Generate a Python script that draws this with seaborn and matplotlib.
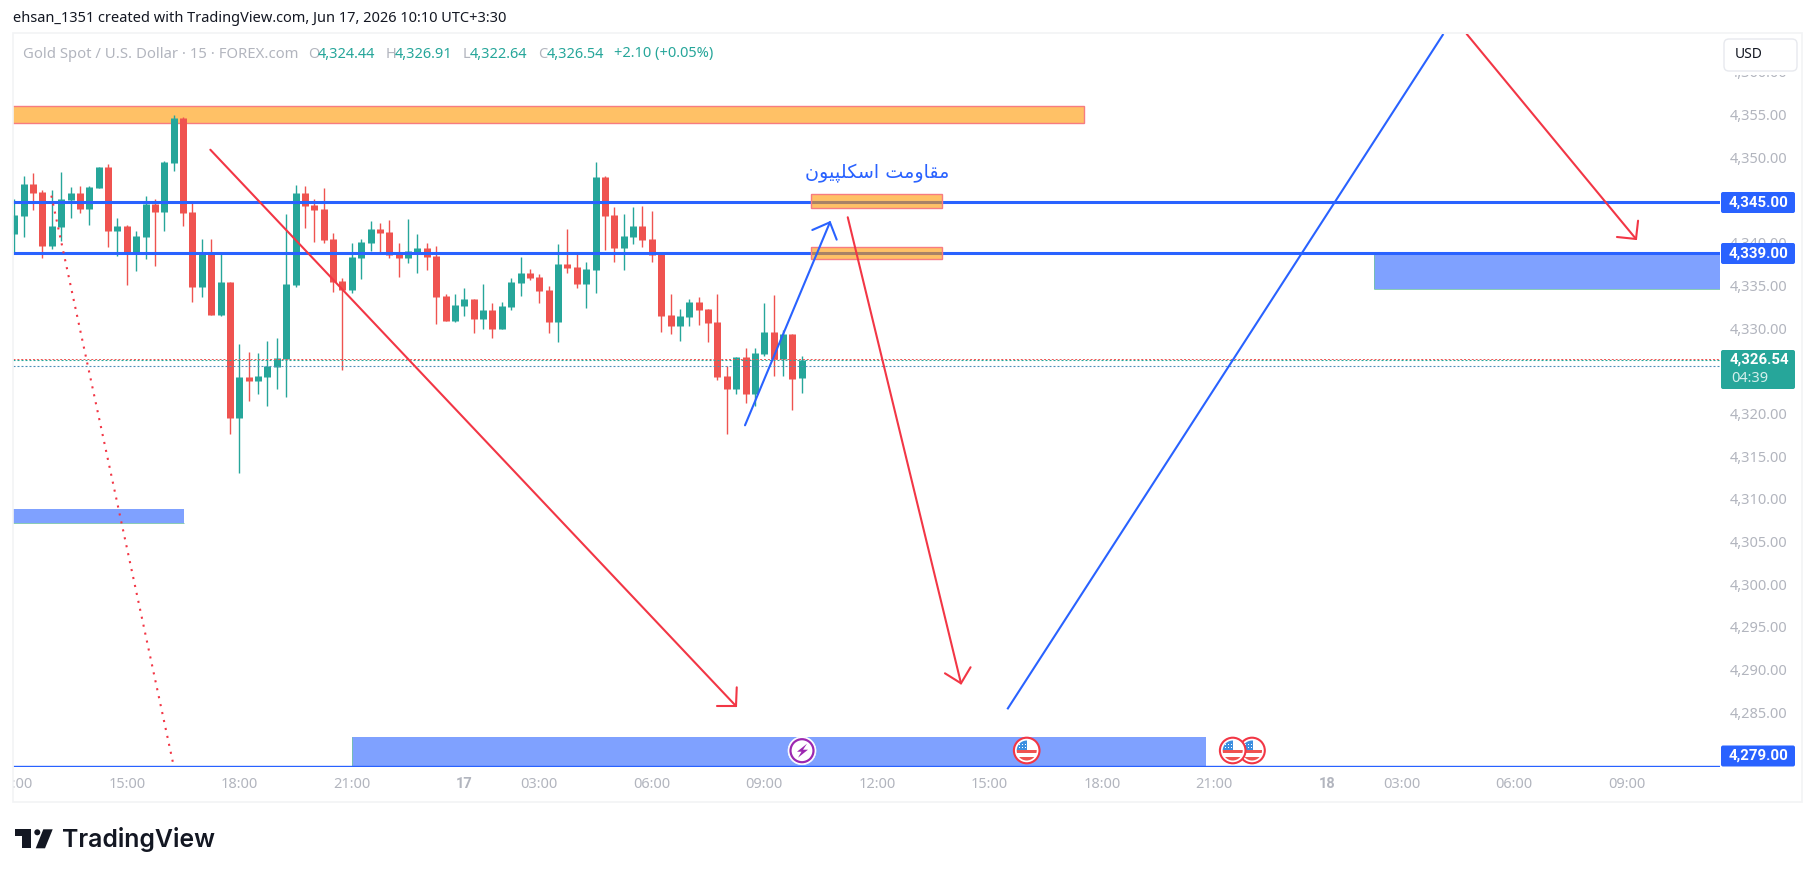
import matplotlib
matplotlib.use('Agg')
import matplotlib.pyplot as plt
import seaborn as sns
import pandas as pd
from matplotlib.patches import Rectangle, Circle, Polygon, FancyBboxPatch
from matplotlib.transforms import Affine2D, Bbox

# 15 min candles
opens = [4341.25, 4343.36, 4347.10, 4346.17, 4339.84, 4342.07, 4345.23, 4346.05, 4344.18, 4346.64,
         4349.09, 4341.60, 4342.19, 4338.91, 4340.90, 4344.76, 4343.83, 4349.56, 4354.83, 4343.83,
         4335.04, 4339.02, 4331.76, 4335.63, 4319.70, 4324.50, 4324.04, 4324.50, 4325.68, 4326.57,
         4335.28, 4346.05, 4344.65, 4344.18, 4340.67, 4335.75, 4334.70, 4338.44, 4340.20, 4341.84,
         4341.49, 4338.91, 4338.44, 4339.15, 4339.61, 4338.68, 4333.99, 4331.07, 4332.82, 4333.64,
         4331.30, 4332.35, 4330.13, 4332.71, 4335.52, 4336.69, 4336.22, 4334.70, 4330.95, 4337.74,
         4337.39, 4335.40, 4337.04, 4347.93, 4343.48, 4339.61, 4340.90, 4342.19, 4340.67, 4338.91,
         4331.77, 4330.48, 4331.53, 4333.29, 4332.47, 4330.95, 4324.63, 4323.10, 4326.85, 4322.52,
         4327.20, 4329.78, 4326.62, 4329.54, 4324.44]
highs = [4345.35, 4348.04, 4348.39, 4346.40, 4346.40, 4348.51, 4346.75, 4346.87, 4346.87, 4349.09,
         4349.45, 4343.12, 4342.30, 4341.60, 4345.70, 4345.35, 4349.80, 4355.18, 4354.95, 4345.11,
         4340.66, 4340.66, 4338.91, 4335.63, 4328.37, 4327.43, 4327.31, 4328.72, 4329.07, 4343.59,
         4346.99, 4346.87, 4345.35, 4346.64, 4341.37, 4336.10, 4340.20, 4340.67, 4342.78, 4342.54,
         4342.89, 4340.20, 4343.01, 4341.25, 4340.20, 4339.85, 4334.23, 4334.23, 4334.93, 4333.64,
         4335.40, 4333.17, 4333.29, 4336.10, 4338.56, 4337.15, 4336.57, 4335.16, 4340.08, 4341.84,
         4339.03, 4337.97, 4349.68, 4348.04, 4344.41, 4343.59, 4344.41, 4344.53, 4343.95, 4339.03,
         4334.23, 4332.47, 4333.64, 4333.88, 4332.47, 4334.23, 4325.80, 4326.85, 4327.90, 4327.90,
         4333.17, 4334.11, 4330.01, 4329.54, 4326.91]
lows = [4338.99, 4340.90, 4344.06, 4338.44, 4339.49, 4340.39, 4343.12, 4343.71, 4342.30, 4346.64,
        4339.73, 4338.67, 4335.28, 4336.92, 4338.32, 4337.50, 4341.60, 4348.63, 4342.19, 4333.29,
        4333.87, 4331.76, 4331.65, 4317.83, 4313.26, 4321.69, 4322.51, 4321.11, 4323.10, 4322.16,
        4335.04, 4341.96, 4340.32, 4340.20, 4334.46, 4325.33, 4334.34, 4335.98, 4339.26, 4339.15,
        4338.44, 4336.22, 4337.86, 4336.69, 4337.04, 4330.71, 4331.07, 4330.95, 4331.65, 4329.66,
        4330.13, 4329.07, 4330.13, 4332.35, 4333.99, 4335.87, 4333.17, 4329.66, 4328.61, 4336.69,
        4334.93, 4332.59, 4334.34, 4339.38, 4337.97, 4337.04, 4340.08, 4339.73, 4337.97, 4329.78,
        4329.54, 4328.72, 4330.48, 4330.60, 4328.61, 4324.16, 4317.83, 4322.52, 4321.46, 4321.11,
        4326.97, 4324.63, 4324.63, 4320.64, 4322.64]
closes = [4343.47, 4347.10, 4346.05, 4339.84, 4342.19, 4345.35, 4346.05, 4344.18, 4346.75, 4349.09,
          4341.60, 4342.19, 4338.91, 4341.01, 4344.76, 4343.83, 4349.68, 4354.83, 4343.71, 4335.04,
          4339.02, 4331.76, 4335.63, 4319.70, 4324.50, 4324.04, 4324.62, 4325.79, 4326.73, 4335.39,
          4346.05, 4344.53, 4344.06, 4340.55, 4335.63, 4334.70, 4338.56, 4340.32, 4341.84, 4341.37,
          4338.79, 4338.44, 4339.26, 4339.61, 4338.56, 4333.88, 4331.07, 4332.94, 4333.64, 4331.30,
          4332.35, 4330.13, 4332.82, 4335.63, 4336.69, 4336.10, 4334.58, 4330.95, 4337.74, 4337.27,
          4335.40, 4337.15, 4347.93, 4343.36, 4339.61, 4341.02, 4342.19, 4340.55, 4338.79, 4331.65,
          4330.48, 4331.65, 4333.29, 4332.35, 4330.83, 4324.51, 4323.10, 4326.85, 4322.52, 4327.32,
          4329.78, 4326.62, 4329.54, 4324.27, 4326.54]

# axis labels
price_ticks = [4280, 4285, 4290, 4295, 4300, 4305, 4310, 4315, 4320, 4325, 4330,
               4335, 4340, 4345, 4350, 4355, 4360]
time_ticks = [0, 12, 24, 36, 48, 56, 68, 80, 92, 104, 116, 128, 140, 148, 160, 172]
time_labels = ['12:00', '15:00', '18:00', '21:00', '17', '03:00', '06:00', '09:00', '12:00',
               '15:00', '18:00', '21:00', '18', '03:00', '06:00', '09:00']

# drawings: (bar, bar, price, price)
long_zone = (-1, 114.1, 4354.2, 4356.2)
orange_zones = [(85, 99, 4344.33, 4345.9), (85, 99, 4338.36, 4339.7)]
blue_zones = [(-1, 18.1, 4307.4, 4309.05), (36, 127.1, 4279, 4282.35), (145, 183, 4334.78, 4339)]
h_levels = [4345, 4339]
bottom_level = 4279
last_price = 4326.54
other_prices = [4326.62, 4325.85]
red_arrows = [([20.91, 76.98], [4351.12, 4285.98], (74.99, 4285.98), (77.06, 4288.17)),
              ([88.9, 100.98], [4343.21, 4288.64], (99.27, 4289.81), (102.0, 4290.52)),
              ([154.92, 172.98], [4364.67, 4340.67], (170.95, 4340.90), (173.2, 4342.81))]
blue_arrow = ([77.94, 87.0], [4318.85, 4342.62], (85.12, 4341.72), (87.72, 4340.59))
blue_long = ([105.92, 152.43], [4285.6, 4364.67])
red_dotted = ([3.95, 17.0], [4345.74, 4278.96])

# matplotlib does not shape arabic, so presentation forms in visual order
note_text = '\ufee5\ufeee\ufbff\ufb59\ufee0\ufb91\ufeb3\ufe8d \ufe96\ufee3\ufeed\ufe8e\ufed8\ufee3'

GREEN = '#26A69A'
RED = '#EF5350'
DRAW_RED = '#F23645'
BLUE = '#2962FF'
GREY = '#B2B5BE'
W, H = 1814, 877

sns.set_theme(style='white')
plt.rcParams['font.family'] = ['Noto Sans', 'DejaVu Sans']
plt.rcParams['lines.solid_capstyle'] = 'butt'

fig = plt.figure(figsize=(W / 100, H / 100), dpi=100)
ax = fig.add_axes([13 / W, (H - 767) / H, 1707 / W, 733 / H])
px = Affine2D().scale(1, -1).translate(0, H)  # pixel coords for the page furniture

bars = list(range(len(opens)))
direction = ['up' if c >= o else 'down' for o, c in zip(opens, closes)]
wicks = pd.DataFrame({'bar': bars * 2, 'price': highs + lows, 'dir': direction * 2})
bodies = pd.DataFrame({'bar': bars * 2, 'price': opens + closes, 'dir': direction * 2})
colors = {'up': GREEN, 'down': RED}

sns.lineplot(data=wicks, x='bar', y='price', hue='dir', units='bar', estimator=None, sort=False,
             palette=colors, lw=1.0, legend=False, ax=ax, zorder=2)
sns.lineplot(data=bodies, x='bar', y='price', hue='dir', units='bar', estimator=None, sort=False,
             palette=colors, lw=5.04, legend=False, ax=ax, zorder=2.1)

ax.set_xlim(-0.139, 181.94)
ax.set_ylim(4278.84, 4364.67)

# levels
for lev in h_levels:
    ax.axhline(lev, color=BLUE, lw=2.2, zorder=3)
ax.axhline(bottom_level, color=BLUE, lw=1.0, zorder=3)
ax.axhline(last_price, color=GREEN, lw=0.8, ls=(0, (1.8, 1.8)), zorder=2.5)
ax.axhline(other_prices[0], color=RED, lw=0.7, ls=(0, (2, 2)), zorder=2.6)
ax.axhline(other_prices[1], color='#4A90B8', lw=0.8, ls=(0, (1.8, 1.8)), zorder=2.5)

# zones
x0, x1, y0, y1 = long_zone
ax.add_patch(Rectangle((x0, y0), x1 - x0, y1 - y0, facecolor='#FF9800', alpha=0.6, lw=0, zorder=1.5))
ax.add_patch(Rectangle((x0, y0), x1 - x0, y1 - y0, fill=False, edgecolor='#F77C80', lw=1, zorder=1.6))
for x0, x1, y0, y1 in orange_zones:
    ax.add_patch(Rectangle((x0, y0), x1 - x0, y1 - y0, facecolor='#FF9800', alpha=0.6, lw=0, zorder=4))
    ax.add_patch(Rectangle((x0, y0), x1 - x0, y1 - y0, fill=False, edgecolor='#F77C80', lw=1, zorder=4))
for x0, x1, y0, y1 in blue_zones:
    ax.add_patch(Rectangle((x0, y0), x1 - x0, y1 - y0, facecolor='#7FA1FF', lw=0, zorder=1.5))
    ax.plot([x0, x1], [y0, y0], color='#74C2A8', lw=0.6, zorder=1.6)
    ax.plot([x0, x0], [y0, y1], color='#74C2A8', lw=0.6, zorder=1.6)

# arrows and trend lines
def arrow(line_x, line_y, head_a, head_b, color):
    tip = (line_x[1], line_y[1])
    for seg_x, seg_y in [(line_x, line_y), ([head_a[0], tip[0]], [head_a[1], tip[1]]),
                         ([head_b[0], tip[0]], [head_b[1], tip[1]])]:
        ax.plot(seg_x, seg_y, color=color, lw=1.5, solid_capstyle='round', zorder=5)

for ra in red_arrows:
    arrow(*ra, DRAW_RED)
arrow(*blue_arrow, BLUE)
ax.plot(*blue_long, color=BLUE, lw=1.5, zorder=5)
ax.plot(*red_dotted, color=DRAW_RED, lw=1.5, ls=(0, (1, 2.9)), zorder=5)

ax.text(877, 173, note_text, transform=px, color=BLUE, fontsize=13.8, ha='center', va='center',
        family='DejaVu Sans', zorder=6)

# axes look
sns.despine(ax=ax, left=True, bottom=True, top=True, right=True)
ax.set_xlabel('')
ax.set_ylabel('')
ax.yaxis.tick_right()
ax.set_yticks(price_ticks, [f'{v:,.2f}' for v in price_ticks])
ax.set_xticks(time_ticks, time_labels)
ax.tick_params(axis='y', length=0, pad=7, labelsize=10.5, labelcolor=GREY)
ax.tick_params(axis='x', length=0, pad=7, labelsize=10.5, labelcolor=GREY)
for lab in ax.get_yticklabels():
    lab.set_va('center')
clip = Bbox([[13, 0], [W, H]])
for lab, name in zip(ax.get_xticklabels(), time_labels):
    lab.set_clip_box(clip)
    lab.set_clip_on(True)
    if ':' not in name:
        lab.set_family('Roboto')
        lab.set_fontweight('bold')

# frame around the chart
fig.add_artist(Rectangle((12.5, 33), 1789, 769, fill=False, edgecolor='#F2F3F5', lw=1.2, transform=px))

# price tags
tags = [('4,345.00', 192, 21), ('4,339.00', 243, 21), ('4,279.00', 745.5, 21)]
for label, top, hgt in tags:
    fig.add_artist(FancyBboxPatch((1721, top), 74, hgt, boxstyle='round,pad=0,rounding_size=2',
                                  facecolor=BLUE, edgecolor='none', transform=px))
    fig.text(1759, top + hgt / 2, label, transform=px, color='white', fontsize=10.8, fontweight='bold',
             family='Roboto', ha='center', va='center')
fig.add_artist(FancyBboxPatch((1721, 350), 74, 39, boxstyle='round,pad=0,rounding_size=2',
                              facecolor=GREEN, edgecolor='none', transform=px))
fig.text(1759, 360, '4,326.54', transform=px, color='white', fontsize=10.8, fontweight='bold',
         family='Roboto', ha='center', va='center')
fig.text(1731, 378, '04:39', transform=px, color='#D4EFEC', fontsize=10.5, ha='left', va='center')

# USD button, it hides most of the top price label
fig.add_artist(Rectangle((1721, 35), 79, 40, facecolor='white', lw=0, transform=px))
fig.add_artist(FancyBboxPatch((1724, 39), 73, 32, boxstyle='round,pad=0,rounding_size=5',
                              facecolor='white', edgecolor='#E7E9EE', lw=1, transform=px))
fig.text(1735, 55, 'USD', transform=px, color='#131722', fontsize=10, ha='left', va='center')

# header and symbol line
fig.text(13, 19, 'ehsan_1351 created with TradingView.com, Jun 17, 2026 10:10 UTC+3:30',
         transform=px, color='#131722', fontsize=10.5, ha='left', va='center')
legend_parts = [(23, 'Gold Spot / U.S. Dollar · 15 · FOREX.com', GREY, 10.7), (308, 'O', GREY, 10.5),
                (318, '4,324.44', GREEN, 10.5), (385.7, 'H', GREY, 10.5), (395, '4,326.91', GREEN, 10.5),
                (462.7, 'L', GREY, 10.5), (470, '4,322.64', GREEN, 10.5), (537.7, 'C', GREY, 10.5),
                (546.7, '4,326.54', GREEN, 10.5), (614, '+2.10 (+0.05%)', GREEN, 10.5)]
for x, s, c, fs in legend_parts:
    fig.text(x, 54, s, transform=px, color=c, fontsize=fs, ha='left', va='center')

# event icons on the bottom zone
def flag(cx, cy):
    fig.add_artist(Circle((cx, cy), 12.8, facecolor='white', edgecolor='#F23645', lw=1.5, transform=px))
    disc = Circle((cx, cy), 10, transform=px)
    for y0, h, c in [(cy - 1, 3.2, '#EF5350'), (cy + 6, 5, '#EF5350')]:
        r = Rectangle((cx - 11, y0), 22, h, facecolor=c, lw=0, transform=px)
        fig.add_artist(r)
        r.set_clip_path(disc)
    r = Rectangle((cx - 11, cy - 10.5), 11.5, 10, facecolor='#3D8FE0', lw=0, transform=px)
    fig.add_artist(r)
    r.set_clip_path(disc)
    for dx in (-7.5, -4.5, -1.5):
        for dy in (-6.5, -3.5):
            fig.add_artist(Rectangle((cx + dx, cy + dy), 1, 1, facecolor='white', lw=0, transform=px))

flag(1026.7, 750.5)
flag(1252, 750.5)
flag(1232.7, 750.5)
cx, cy = 802, 750.7
fig.add_artist(Circle((cx, cy), 14, facecolor='white', edgecolor='white', lw=0.5, transform=px))
fig.add_artist(Circle((cx, cy), 11.5, facecolor='white', edgecolor='#9C27B0', lw=1.6, transform=px))
fig.add_artist(Polygon([(cx + 5, cy - 7), (cx - 5, cy + 1), (cx - 0.5, cy + 1), (cx - 4, cy + 7),
                        (cx + 6, cy - 1), (cx + 1, cy - 1)], closed=True, facecolor='#9C27B0',
                       lw=0, transform=px))

# TradingView logo
fig.add_artist(Polygon([(15.3, 829.3), (31.3, 829.3), (31.3, 848.3), (22, 848.3), (22, 835.5), (15.3, 835.5)],
                       closed=True, facecolor='#131722', lw=0, transform=px))
fig.add_artist(Circle((37.3, 832.3), 3, facecolor='#131722', lw=0, transform=px))
fig.add_artist(Polygon([(43.3, 829.3), (52.7, 829.3), (45, 848.3), (35.7, 848.3)], closed=True,
                       facecolor='#131722', lw=0, transform=px))
fig.text(62, 839, 'TradingView', transform=px, color='#131722', fontsize=17.9, fontweight='semibold',
         family='Inter', ha='left', va='center')

fig.savefig('out.png', dpi=100, facecolor='white')
